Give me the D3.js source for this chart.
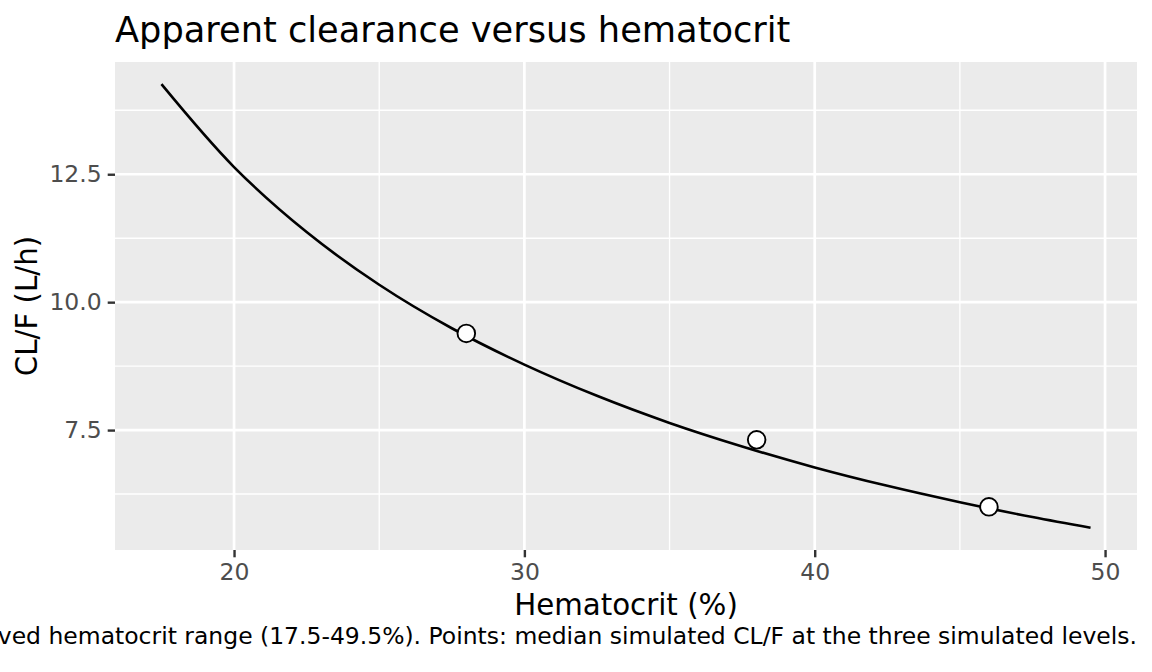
<!DOCTYPE html>
<html>
<head>
<meta charset="utf-8">
<script src="https://cdn.jsdelivr.net/npm/d3@7"></script>
<style>
  body { margin: 0; background: #fff; }
  svg { display: block; font-family: "DejaVu Sans", sans-serif; }
</style>
</head>
<body>
<div id="chart"></div>
<script>
// curve (hematocrit %, CL/F L/h)
const curveHct = [17.5, 20, 22.5, 25, 27.5, 30, 32.5, 35, 37.5, 40, 42.5, 45, 47.5, 49.5];
const curveCl = [14.26, 12.64, 11.37, 10.34, 9.49, 8.78, 8.17, 7.64, 7.18, 6.77, 6.41, 6.09, 5.80, 5.59];
// median simulated points
const pointHct = [28, 38, 46];
const pointCl = [9.39, 7.31, 6.0];
const xTicks = [20, 30, 40, 50];
const xMinor = [25, 35, 45];
const yTicks = [7.5, 10.0, 12.5];
const yMinor = [6.25, 8.75, 11.25, 13.75];

const width = 1152, height = 672;
const panel = {left: 115, right: 1137, top: 62, bottom: 550};

const svg = d3.select("#chart").append("svg")
  .attr("width", width)
  .attr("height", height);

// ggplot-like 5% expansion
function expand(ext) {
  const pad = (ext[1] - ext[0]) * 0.05;
  return [ext[0] - pad, ext[1] + pad];
}
const x = d3.scaleLinear()
  .domain(expand(d3.extent(curveHct)))
  .range([panel.left, panel.right]);
const y = d3.scaleLinear()
  .domain(expand(d3.extent(curveCl)))
  .range([panel.bottom, panel.top]);

// panel background
svg.append("rect")
  .attr("x", panel.left).attr("y", panel.top)
  .attr("width", panel.right - panel.left)
  .attr("height", panel.bottom - panel.top)
  .attr("fill", "#EBEBEB");

// gridlines
const grid = svg.append("g").attr("stroke", "#fff");
grid.selectAll(".xminor").data(xMinor).enter().append("line")
  .attr("x1", d => x(d)).attr("x2", d => x(d))
  .attr("y1", panel.top).attr("y2", panel.bottom)
  .attr("stroke-width", 1.35);
grid.selectAll(".yminor").data(yMinor).enter().append("line")
  .attr("y1", d => y(d)).attr("y2", d => y(d))
  .attr("x1", panel.left).attr("x2", panel.right)
  .attr("stroke-width", 1.35);
grid.selectAll(".xmajor").data(xTicks).enter().append("line")
  .attr("x1", d => x(d)).attr("x2", d => x(d))
  .attr("y1", panel.top).attr("y2", panel.bottom)
  .attr("stroke-width", 2.7);
grid.selectAll(".ymajor").data(yTicks).enter().append("line")
  .attr("y1", d => y(d)).attr("y2", d => y(d))
  .attr("x1", panel.left).attr("x2", panel.right)
  .attr("stroke-width", 2.7);

// axes
const xAxis = svg.append("g")
  .attr("transform", `translate(0,${panel.bottom})`)
  .call(d3.axisBottom(x).tickValues(xTicks).tickSize(7.3).tickPadding(6).tickFormat(d3.format("d")));
const yAxis = svg.append("g")
  .attr("transform", `translate(${panel.left},0)`)
  .call(d3.axisLeft(y).tickValues(yTicks).tickSize(7.3).tickPadding(6).tickFormat(d3.format(".1f")));
[xAxis, yAxis].forEach(a => {
  a.select(".domain").remove();
  a.selectAll(".tick line").attr("stroke", "#333").attr("stroke-width", 2.4);
  a.selectAll(".tick text").attr("fill", "#4D4D4D")
    .style("font-size", "23.5px").style("font-family", "DejaVu Sans");
});

// curve
svg.append("path")
  .datum(curveHct.map((h, i) => [h, curveCl[i]]))
  .attr("fill", "none")
  .attr("stroke", "#000")
  .attr("stroke-width", 2.6)
  .attr("d", d3.line().x(d => x(d[0])).y(d => y(d[1])).curve(d3.curveCatmullRom));

// points
svg.append("g").selectAll("circle")
  .data(pointHct.map((h, i) => [h, pointCl[i]]))
  .enter().append("circle")
  .attr("cx", d => x(d[0]))
  .attr("cy", d => y(d[1]))
  .attr("r", 8.8)
  .attr("fill", "#fff")
  .attr("stroke", "#000")
  .attr("stroke-width", 1.9);

// texts
svg.append("text")
  .attr("x", panel.left).attr("y", 41.5)
  .style("font-size", "35.2px")
  .text("Apparent clearance versus hematocrit");

svg.append("text")
  .attr("x", (panel.left + panel.right) / 2).attr("y", 615)
  .attr("text-anchor", "middle")
  .style("font-size", "29.3px")
  .text("Hematocrit (%)");

svg.append("text")
  .attr("transform", `translate(36.5,${(panel.top + panel.bottom) / 2}) rotate(-90)`)
  .attr("text-anchor", "middle")
  .style("font-size", "29.3px")
  .text("CL/F (L/h)");

svg.append("text")
  .attr("x", panel.right).attr("y", 644)
  .attr("text-anchor", "end")
  .style("font-size", "23.47px")
  .text("Curve: model-predicted typical CL/F across the observed hematocrit range (17.5-49.5%). Points: median simulated CL/F at the three simulated levels.");
</script>
</body>
</html>
